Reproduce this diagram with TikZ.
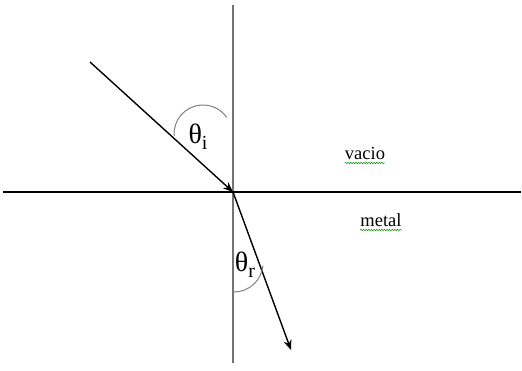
\documentclass[tikz,border=0pt]{standalone}
\usepackage{fontspec}
\setmainfont{Liberation Serif}
\usetikzlibrary{arrows.meta,decorations.pathmorphing}
\begin{document}
\begin{tikzpicture}[x=1pt,y=1pt,
  axisv/.style={draw=gray!90!black,line width=1.3pt},
  axish/.style={draw=black,line width=1.3pt},
  ray/.style={draw=black,line width=1.4pt,-{Stealth[length=10pt,width=8pt]}},
  anglearc/.style={draw=gray,line width=1pt},
  word/.style={font=\fontsize{18.5}{20}\selectfont,anchor=base,inner sep=0pt},
  angtxt/.style={font=\fontsize{28}{30}\selectfont,inner sep=0pt},
  squig/.style={draw=green!55!black,line width=0.5pt,decorate,decoration={snake,amplitude=0.7pt,segment length=2.6pt}}]
\useasboundingbox (0,0) rectangle (522,370);
\coordinate (vtop) at (233,365);
\coordinate (vbot) at (233,7);
\coordinate (hleft) at (3,178);
\coordinate (hright) at (521,178);
\coordinate (O) at (233,178);
\coordinate (src) at (90,308);
\coordinate (dst) at (291,20);
\draw[axisv] (vtop) -- (vbot);
\draw[axish] (hleft) -- (hright);
\draw[ray] (src) -- (O);
\draw[ray] (O) -- (dst);
\draw[anglearc] (203,236) ++(184:29) arc[start angle=184,end angle=35,radius=29];
\draw[anglearc] (234,107) ++(270:29) arc[start angle=270,end angle=355,radius=29];
\node[angtxt] (ti) at (198,233) {θ\raisebox{-0.2em}{\fontsize{20}{22}\selectfont i}};
\node[angtxt] (tr) at (245,105) {θ\raisebox{-0.2em}{\fontsize{20}{22}\selectfont r}};
\node[word] (vacio) at (365,210) {vacio};
\node[word] (metal) at (381,143) {metal};
\draw[squig] ([yshift=-3pt]vacio.base west) -- ([yshift=-3pt]vacio.base east);
\draw[squig] ([yshift=-3pt]metal.base west) -- ([yshift=-3pt]metal.base east);
\end{tikzpicture}
\end{document}
